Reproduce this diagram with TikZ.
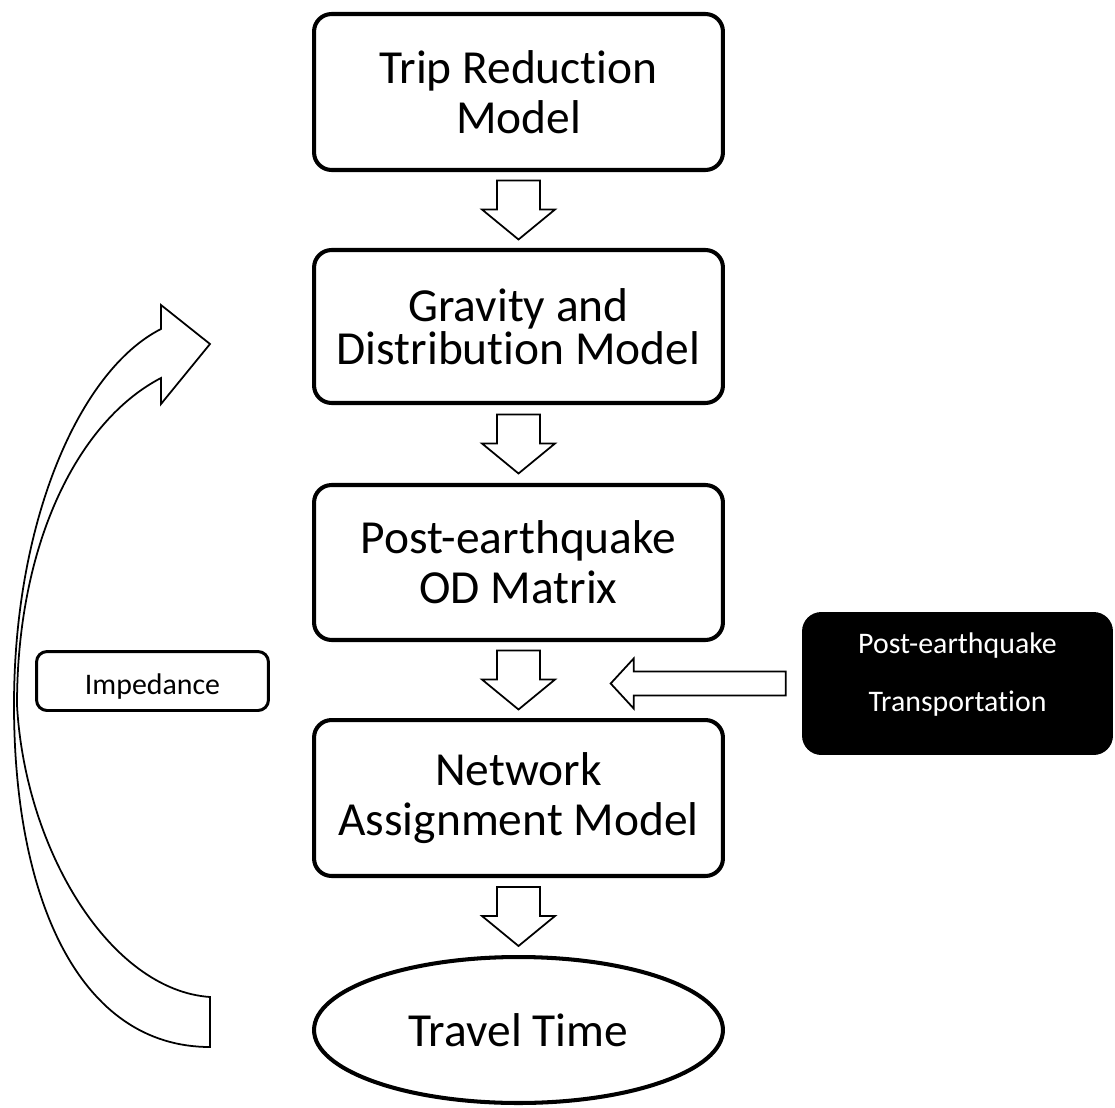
\documentclass[tikz,border=0pt]{standalone}
\usepackage{fontspec}
\setmainfont{Carlito}[RawFeature={-liga;-clig;-dlig;-calt}]
\usetikzlibrary{calc,shapes.geometric}
\begin{document}
\begin{tikzpicture}[x=0.02cm,y=-0.02cm,
  stage/.style={draw, line width=2.3pt, rounded corners=10pt,
    minimum width=8.18cm, minimum height=3.12cm, inner sep=0pt,
    align=center, font=\fontsize{27}{28.5}\selectfont},
  result/.style={draw, ellipse, line width=2.3pt, minimum width=8.18cm,
    minimum height=2.92cm, inner sep=0pt, font=\fontsize{27}{28.5}\selectfont},
  smallbox/.style={draw, line width=1.7pt, rounded corners=6pt,
    minimum width=4.64cm, minimum height=1.18cm, inner sep=0pt,
    text height=15pt, text depth=0pt, font=\fontsize{17}{20}\selectfont},
  darkbox/.style={fill=black, rounded corners=11pt, minimum width=6.22cm,
    minimum height=2.86cm, inner sep=0pt},
  darktext/.style={text=white, align=center, font=\fontsize{17}{33}\selectfont},
  blockline/.style={draw, fill=white, line width=1pt, line join=miter},
  downarrow/.pic={
    \path[blockline] (-21.5,-29.5) -- (21.5,-29.5) -- (21.5,-0.5) -- (36.5,-0.5)
      -- (0,29.5) -- (-36.5,-0.5) -- (-21.5,-0.5) -- cycle;},
  leftarrow/.pic={
    \path[blockline] (0,-12) -- (-152,-12) -- (-152,-25) -- (-175,0)
      -- (-152,25) -- (-152,12) -- (0,12) -- cycle;}
]
\useasboundingbox (0,0) rectangle (1115,1108);

% main chain of models
\node[stage] (trip) at (518.5,92) {Trip Reduction\\Model};
\node[stage, minimum height=3.06cm, font=\fontsize{27}{24.5}\selectfont]
  (gravity) at (518.5,326.5) {Gravity and\\Distribution Model};
\node[stage, minimum height=3.1cm] (od) at (518.5,562.5) {Post-earthquake\\OD Matrix};
\node[stage] (net) at (518.5,798) {Network\\Assignment Model};
\node[result] (tt) at (518.5,1030) {Travel Time};

% side inputs
\node[smallbox] (imp) at (152.5,681) {Impedance};
\node[darkbox, label={[darktext, yshift=0.17cm]center:{Post-earthquake\\Transportation}}]
  (transp) at (957.5,683.5) {};

% block arrows between the stages
\pic at ($(trip.south)!0.5!(gravity.north)$) {downarrow};
\pic at ($(gravity.south)!0.5!(od.north)$) {downarrow};
\pic at ($(od.south)!0.5!(net.north)$) {downarrow};
\pic at ($(net.south)!0.5!(tt.north)$) {downarrow};
\pic at ($(transp.west)+(-16,0)$) {leftarrow};

% feedback arrow from travel time back to the gravity model
\coordinate (fbtail) at (210,1047);
\coordinate (fbtip) at (210,344);
\path[blockline] (fbtail) .. controls (80,1047) and (14,900) .. (14,705)
  .. controls (14,520) and (80,370) .. (161,329)
  -- (161,305) -- (fbtip) -- (161,404) -- (161,378)
  .. controls (80,420) and (17,540) .. (17,705)
  .. controls (25,850) and (110,990) .. (210,997) -- cycle;
\end{tikzpicture}
\end{document}
